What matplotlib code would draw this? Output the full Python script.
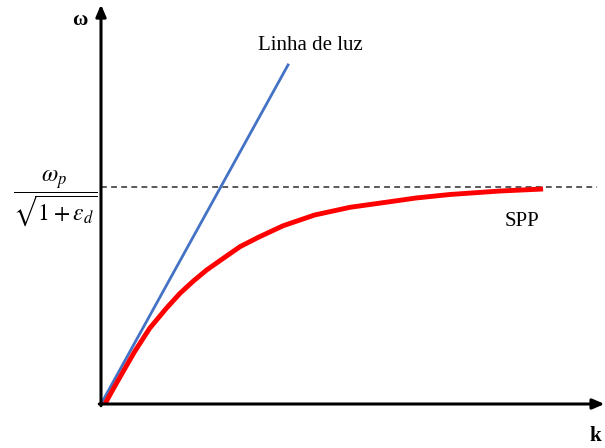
"""
Relação de dispersão do plasmon de superfície (SPP) vs. linha de luz.
"""
import matplotlib
matplotlib.use("Agg")
import matplotlib.pyplot as plt

plt.rcParams["font.family"] = ["Liberation Serif", "DejaVu Serif"]
plt.rcParams["mathtext.fontset"] = "stix"

# ── dados (k normalizado, ω normalizado por ω_sp) ─────────
spp_k = [0.018, 0.060, 0.108, 0.155, 0.225, 0.3035, 0.365, 0.425, 0.488,
         0.565, 0.642, 0.727, 0.842, 0.987, 1.150, 1.304, 1.455, 1.612,
         1.843, 2.042]
spp_w = [0.0, 0.076, 0.160, 0.2416, 0.350, 0.444, 0.5113, 0.5665, 0.619,
         0.673, 0.7266, 0.770, 0.8236, 0.873, 0.9085, 0.930, 0.9515,
         0.9677, 0.9838, 0.993]
luz_k = [0.0, 0.864]
luz_w = [0.0, 1.566]
w_sp = 1.0
k_max_dash = 2.29

BLUE = "#4472C4"
RED = "#FF0000"

fig = plt.figure(figsize=(6.05, 4.48), dpi=100)
ax = fig.add_axes([0, 0, 1, 1])
ax.set_xlim(-0.4665, 2.328)
ax.set_ylim(-0.2032, 1.866)
ax.axis("off")

# linha tracejada ω_sp
ax.plot([0, k_max_dash], [w_sp, w_sp], color="#595959", lw=1.4,
        ls=(0, (3, 2.2)))

# linha de luz e SPP
ax.plot(luz_k, luz_w, color=BLUE, lw=2)
ax.plot(spp_k, spp_w, color=RED, lw=3.5, solid_capstyle="butt",
        solid_joinstyle="round")

# eixos com setas
arrow = dict(arrowstyle="-|>,head_length=0.7,head_width=0.3", color="black",
             lw=2.2, shrinkA=0, shrinkB=0)
ax.annotate("", xy=(0, 1.845), xytext=(0, -0.008), arrowprops=arrow)
ax.annotate("", xy=(2.326, 0), xytext=(-0.008, 0), arrowprops=arrow)

ax.text(-0.097, 1.774, "ω", fontsize=15, fontweight="bold", ha="center", va="center")
ax.text(2.282, -0.150, "k", fontsize=15, fontweight="bold", ha="center", va="center")
ax.text(0.965, 1.658, "Linha de luz", fontsize=15, ha="center", va="center")
ax.text(1.945, 0.841, "SPP", fontsize=15, ha="center", va="center")
ax.text(-0.2125, 0.946, r"$\dfrac{\omega_p}{\sqrt{1+\varepsilon_d}}$",
        fontsize=17, ha="center", va="center")

fig.savefig("out.png", dpi=100)
